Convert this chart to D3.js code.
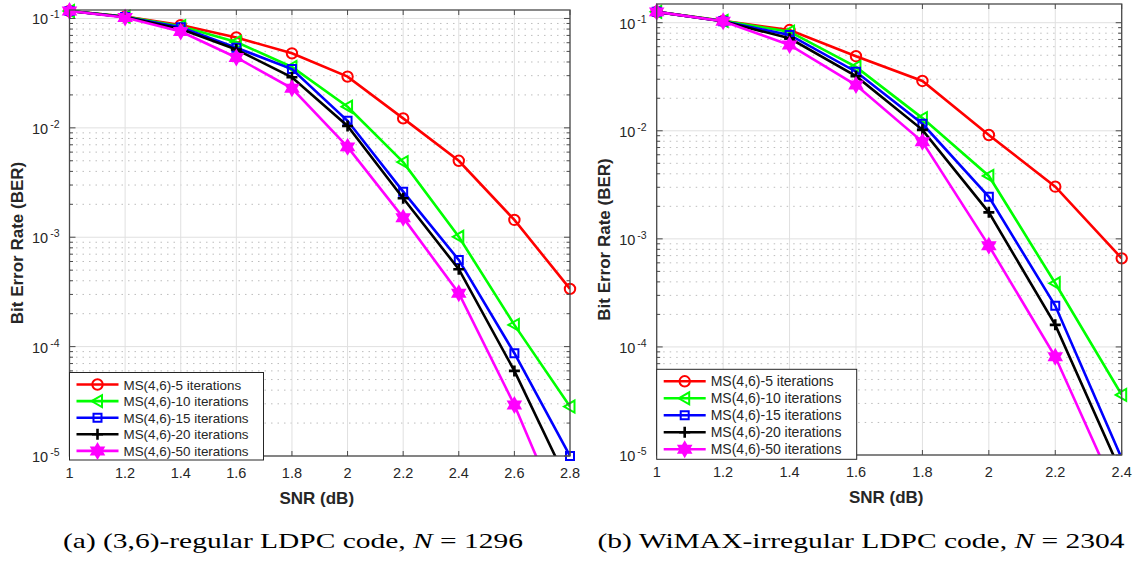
<!DOCTYPE html>
<html>
<head>
<meta charset="utf-8">
<script src="https://cdn.jsdelivr.net/npm/d3@7"></script>
<style>
  body { margin: 0; background: #fff; }
  text { font-family: "Liberation Sans", Arial, sans-serif; fill: #262626; }
</style>
</head>
<body>
<div id="chart"></div>
<script>
const width = 1136, height = 561;

// (a) (3,6)-regular LDPC, N = 1296
const snrA = [1, 1.2, 1.4, 1.6, 1.8, 2, 2.2, 2.4, 2.6, 2.8];
const berA5  = [0.117, 0.104, 0.087, 0.067, 0.048, 0.0294, 0.0122, 0.0050, 0.00144, 3.37e-4];
const berA10 = [0.117, 0.104, 0.085, 0.061, 0.036, 0.0156, 0.00486, 0.00101, 1.58e-4, 2.83e-5];
const berA15 = [0.117, 0.103, 0.083, 0.054, 0.0345, 0.0116, 0.00261, 6.2e-4, 8.7e-5, 1.0e-5];
const berA20 = [0.117, 0.103, 0.080, 0.052, 0.029, 0.0104, 0.00227, 5.1e-4, 6.0e-5, 5.2e-6];
const berA50 = [0.117, 0.102, 0.076, 0.044, 0.023, 0.0067, 0.00151, 3.08e-4, 2.93e-5, 1.86e-6];

// (b) WiMAX-irregular LDPC, N = 2304
const snrB = [1, 1.2, 1.4, 1.6, 1.8, 2, 2.2, 2.4];
const berB5  = [0.126, 0.104, 0.0856, 0.049, 0.0289, 0.00914, 0.00304, 6.6e-4];
const berB10 = [0.126, 0.104, 0.0826, 0.039, 0.0131, 0.00382, 3.88e-4, 3.6e-5];
const berB15 = [0.126, 0.103, 0.077, 0.0352, 0.0116, 0.00245, 2.4e-4, 9.3e-6];
const berB20 = [0.126, 0.103, 0.0717, 0.032, 0.0102, 0.00176, 1.6e-4, 6.7e-6];
const berB50 = [0.126, 0.103, 0.0622, 0.0265, 0.0079, 8.65e-4, 8.1e-5, 3.5e-6];

const seriesNames = ["MS(4,6)-5 iterations", "MS(4,6)-10 iterations", "MS(4,6)-15 iterations",
                     "MS(4,6)-20 iterations", "MS(4,6)-50 iterations"];
const seriesColors = ["#ff0000", "#00ff00", "#0000ff", "#000000", "#ff00ff"];
const seriesMarkers = ["circle", "triangle-left", "square", "plus", "hexagram"];
const xTicksA = [1, 1.2, 1.4, 1.6, 1.8, 2, 2.2, 2.4, 2.6, 2.8];
const xTicksB = [1, 1.2, 1.4, 1.6, 1.8, 2, 2.2, 2.4];
const yDecades = [-5, -4, -3, -2, -1];

const svg = d3.select("#chart").append("svg")
    .attr("width", width)
    .attr("height", height);

// marker path generators centered at 0,0
function markerPath(type) {
    if (type === "triangle-left") {
        return "M-6,0L4.5,-6L4.5,6Z";
    }
    if (type === "square") {
        return "M-4,-4H4V4H-4Z";
    }
    if (type === "plus") {
        return "M-5.5,0H5.5M0,-5.5V5.5";
    }
    if (type === "hexagram") {
        const r = 7, pts = [];
        for (let k = 0; k < 12; k++) {
            const a = -Math.PI / 2 + k * Math.PI / 6;
            const rr = k % 2 === 0 ? r : r * 0.58;
            pts.push([rr * Math.cos(a), rr * Math.sin(a)]);
        }
        return "M" + pts.map(p => p.join(",")).join("L") + "Z";
    }
    return null;
}

function drawMarker(g, type, color, x, y) {
    if (type === "circle") {
        g.append("circle")
            .attr("cx", x).attr("cy", y).attr("r", 5.2)
            .attr("fill", "none").attr("stroke", color).attr("stroke-width", 2);
    } else {
        g.append("path")
            .attr("transform", `translate(${x},${y})`)
            .attr("d", markerPath(type))
            .attr("fill", type === "hexagram" ? color : "none")
            .attr("stroke", color)
            .attr("stroke-width", type === "plus" ? 2.6 : 2);
    }
}

function drawPanel(p) {
    const x = d3.scaleLinear().domain(p.xDomain).range([p.left, p.right]);
    const y = d3.scaleLog().domain(p.yDomain).range([p.bottom, p.top]);
    const g = svg.append("g");

    // grid: minor dotted
    const minor = [];
    yDecades.forEach(e => { for (let m = 2; m <= 9; m++) minor.push(m * Math.pow(10, e)); });
    const minorIn = minor.filter(v => v >= p.yDomain[0] && v <= p.yDomain[1]);
    g.selectAll(".minor").data(minorIn).enter().append("line")
        .attr("x1", p.left).attr("x2", p.right)
        .attr("y1", d => y(d)).attr("y2", d => y(d))
        .attr("stroke", "#bdbdbd").attr("stroke-width", 1)
        .attr("stroke-dasharray", "1.5,5");
    // grid: major
    g.selectAll(".gx").data(p.xTicks).enter().append("line")
        .attr("x1", d => x(d)).attr("x2", d => x(d))
        .attr("y1", p.top).attr("y2", p.bottom)
        .attr("stroke", "#e0e0e0").attr("stroke-width", 1);
    g.selectAll(".gy").data(yDecades).enter().append("line")
        .attr("x1", p.left).attr("x2", p.right)
        .attr("y1", d => y(Math.pow(10, d))).attr("y2", d => y(Math.pow(10, d)))
        .attr("stroke", "#e0e0e0").attr("stroke-width", 1);

    // clip for lines
    const clipId = "clip-" + p.id;
    svg.append("clipPath").attr("id", clipId).append("rect")
        .attr("x", p.left).attr("y", p.top)
        .attr("width", p.right - p.left).attr("height", p.bottom - p.top);

    const line = d3.line().x(d => x(d[0])).y(d => y(d[1]));
    p.series.forEach((vals, i) => {
        const pts = p.snr.map((s, j) => [s, vals[j]]);
        g.append("path")
            .attr("clip-path", `url(#${clipId})`)
            .attr("d", line(pts))
            .attr("fill", "none")
            .attr("stroke", seriesColors[i])
            .attr("stroke-width", 2.6);
        pts.filter(d => d[1] >= p.yDomain[0] * 0.999).forEach(d => {
            drawMarker(g, seriesMarkers[i], seriesColors[i], x(d[0]), y(d[1]));
        });
    });

    // axis box
    g.append("rect")
        .attr("x", p.left).attr("y", p.top)
        .attr("width", p.right - p.left).attr("height", p.bottom - p.top)
        .attr("fill", "none").attr("stroke", "#4a4a4a").attr("stroke-width", 1.3);

    // ticks inside
    p.xTicks.forEach(t => {
        g.append("line").attr("x1", x(t)).attr("x2", x(t))
            .attr("y1", p.bottom).attr("y2", p.bottom - 5)
            .attr("stroke", "#4a4a4a").attr("stroke-width", 1);
        g.append("line").attr("x1", x(t)).attr("x2", x(t))
            .attr("y1", p.top).attr("y2", p.top + 5)
            .attr("stroke", "#4a4a4a").attr("stroke-width", 1);
    });
    yDecades.forEach(e => {
        const yy = y(Math.pow(10, e));
        [[p.left, 1], [p.right, -1]].forEach(([xx, dir]) => {
            g.append("line").attr("x1", xx).attr("x2", xx + dir * 6)
                .attr("y1", yy).attr("y2", yy)
                .attr("stroke", "#4a4a4a").attr("stroke-width", 1);
        });
    });
    minorIn.forEach(v => {
        const yy = y(v);
        [[p.left, 1], [p.right, -1]].forEach(([xx, dir]) => {
            g.append("line").attr("x1", xx).attr("x2", xx + dir * 3.5)
                .attr("y1", yy).attr("y2", yy)
                .attr("stroke", "#4a4a4a").attr("stroke-width", 1);
        });
    });

    // tick labels
    g.selectAll(".xl").data(p.xTicks).enter().append("text")
        .attr("x", d => x(d)).attr("y", p.bottom + 22)
        .attr("text-anchor", "middle")
        .style("font-size", "14.5px")
        .text(d => d3.format("~g")(d));
    yDecades.forEach(e => {
        const t = g.append("text")
            .attr("x", p.left - 10).attr("y", y(Math.pow(10, e)) + 6)
            .attr("text-anchor", "end")
            .style("font-size", "14.5px");
        t.append("tspan").text("10");
        t.append("tspan").attr("dy", -6).attr("dx", 2).style("font-size", "10.5px").text("-" + (-e));
    });

    // axis titles
    g.append("text")
        .attr("x", (p.left + p.right) / 2 - 3).attr("y", p.bottom + 48)
        .attr("text-anchor", "middle")
        .style("font-size", "17px").style("font-weight", "bold")
        .text("SNR (dB)");
    g.append("text")
        .attr("transform", `translate(${p.left - 47},${(p.top + p.bottom) / 2 + 10}) rotate(-90)`)
        .attr("text-anchor", "middle")
        .style("font-size", "17px").style("font-weight", "bold")
        .text("Bit Error Rate (BER)");

    // legend
    const lg = g.append("g");
    lg.append("rect")
        .attr("x", p.legend.x).attr("y", p.legend.y)
        .attr("width", p.legend.w).attr("height", p.legend.h)
        .attr("fill", "#fff").attr("stroke", "#262626").attr("stroke-width", 1);
    seriesNames.forEach((name, i) => {
        const ry = p.legend.y + 12 + i * p.legend.step;
        const x0 = p.legend.x + 7, x1 = p.legend.x + 49;
        lg.append("line").attr("x1", x0).attr("x2", x1)
            .attr("y1", ry).attr("y2", ry)
            .attr("stroke", seriesColors[i]).attr("stroke-width", 2.6);
        drawMarker(lg, seriesMarkers[i], seriesColors[i], (x0 + x1) / 2, ry);
        lg.append("text")
            .attr("x", x1 + 5).attr("y", ry + 5)
            .style("font-size", p.legend.font)
            .text(name);
    });

    // caption
    const cap = svg.append("text")
        .attr("x", p.capX).attr("y", 548)
        .attr("text-anchor", "middle")
        .attr("textLength", p.capLen).attr("lengthAdjust", "spacingAndGlyphs")
        .style("font-family", "'Liberation Serif', 'DejaVu Serif', serif")
        .style("font-size", "22px").style("fill", "#000");
    cap.append("tspan").text(p.caption[0]);
    cap.append("tspan").style("font-style", "italic").text("N");
    cap.append("tspan").text(p.caption[1]);
}

drawPanel({
    id: "a", left: 69.5, right: 570, top: 10, bottom: 456,
    xDomain: [1, 2.8], yDomain: [1e-5, 0.1195], xTicks: xTicksA, snr: snrA,
    series: [berA5, berA10, berA15, berA20, berA50],
    legend: { x: 69.5, y: 372.5, w: 194, h: 87.5, step: 16.6, font: "13.4px" },
    caption: ["(a)  (3,6)-regular LDPC code, ", " = 1296"], capX: 293, capLen: 460
});

drawPanel({
    id: "b", left: 656.7, right: 1121.7, top: 4, bottom: 455,
    xDomain: [1, 2.4], yDomain: [1e-5, 0.149], xTicks: xTicksB, snr: snrB,
    series: [berB5, berB10, berB15, berB20, berB50],
    legend: { x: 656.7, y: 369.3, w: 200, h: 90, step: 17, font: "14px" },
    caption: ["(b)  WiMAX-irregular LDPC code, ", " = 2304"], capX: 861, capLen: 527
});
</script>
</body>
</html>
